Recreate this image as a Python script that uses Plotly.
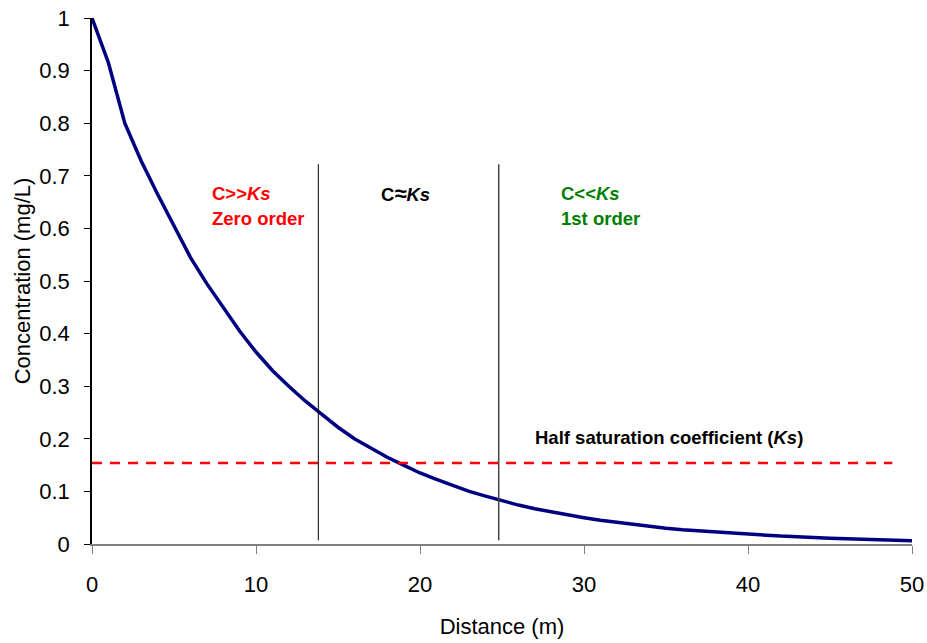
import plotly.graph_objects as go

distance = list(range(0, 51))
concentration = [
    1.000, 0.915, 0.800, 0.728, 0.665, 0.605, 0.545, 0.495, 0.450, 0.405,
    0.365, 0.330, 0.300, 0.272, 0.247, 0.222, 0.200, 0.182, 0.165, 0.150,
    0.135, 0.123, 0.111, 0.100, 0.091, 0.082, 0.074, 0.067, 0.061, 0.055,
    0.050, 0.045, 0.041, 0.037, 0.033, 0.030, 0.027, 0.025, 0.022, 0.020,
    0.018, 0.017, 0.015, 0.014, 0.012, 0.011, 0.010, 0.009, 0.008, 0.007,
    0.006,
]
ks_value = 0.154
ks_x = [0, 48.8]
boundaries = [13.8, 24.8]
boundary_y = [0.007, 0.722]

x_ticks = [0, 10, 20, 30, 40, 50]
y_ticks = [0, 0.1, 0.2, 0.3, 0.4, 0.5, 0.6, 0.7, 0.8, 0.9, 1]
y_tick_labels = ["0", "0.1", "0.2", "0.3", "0.4", "0.5", "0.6", "0.7", "0.8", "0.9", "1"]

FONT = "Arial, Liberation Sans, sans-serif"

fig = go.Figure()
fig.add_trace(go.Scatter(
    x=distance, y=concentration, mode="lines",
    line=dict(color="#000080", width=3.5),
    showlegend=False, hoverinfo="x+y",
))
fig.add_trace(go.Scatter(
    x=ks_x, y=[ks_value, ks_value], mode="lines",
    line=dict(color="#FF0000", width=2.5, dash="10px,8px"),
    showlegend=False,
))
fig.add_trace(go.Scatter(
    x=[boundaries[0], boundaries[0]], y=boundary_y, mode="lines",
    line=dict(color="#000000", width=1), showlegend=False,
))
fig.add_trace(go.Scatter(
    x=[boundaries[1], boundaries[1]], y=boundary_y, mode="lines",
    line=dict(color="#444444", width=1.5), showlegend=False,
))

def ann(x, y, text, color):
    fig.add_annotation(x=x, y=y, xref="x", yref="y", text=text, showarrow=False,
                       xanchor="left", yanchor="middle",
                       font=dict(family=FONT, size=18.5, color=color))

ann(7.2, 0.667, "<b>C&gt;&gt;<i>Ks</i></b>", "#FF0000")
ann(7.2, 0.618, "<b>Zero order</b>", "#FF0000")
ann(17.5, 0.667, "<b>C<span style='font-size:22px'>≈</span><i>Ks</i></b>", "#000000")
ann(28.5, 0.667, "<b>C&lt;&lt;<i>Ks</i></b>", "#008000")
ann(28.5, 0.618, "<b>1st order</b>", "#008000")
ann(26.9, 0.203, "<b>Half saturation coefficient (<i>Ks</i>)</b>", "#000000")

fig.update_layout(
    width=927, height=643,
    margin=dict(l=92, r=15, t=18, b=99, autoexpand=False),
    paper_bgcolor="white", plot_bgcolor="white",
    font=dict(family=FONT, size=22, color="#000000"),
)
fig.update_xaxes(
    range=[0, 50], tickvals=x_ticks, showgrid=False, zeroline=False,
    automargin=False,
    showline=True, linecolor="#808080", linewidth=2,
    ticks="outside", ticklen=8, tickcolor="#808080", tickwidth=1,
    tickfont=dict(size=22), ticklabelstandoff=12,
    title=dict(text="Distance (m)", font=dict(size=22), standoff=22),
)
fig.update_yaxes(
    range=[0, 1], tickvals=y_ticks, ticktext=y_tick_labels, showgrid=False,
    zeroline=False, automargin=False,
    showline=True, linecolor="#000000", linewidth=1.5,
    ticks="outside", ticklen=6, tickcolor="#000000",
    tickfont=dict(size=22), ticklabelstandoff=10,
    title=dict(text="Concentration (mg/L)", font=dict(size=22), standoff=3),
)

fig.write_html("out.html")
